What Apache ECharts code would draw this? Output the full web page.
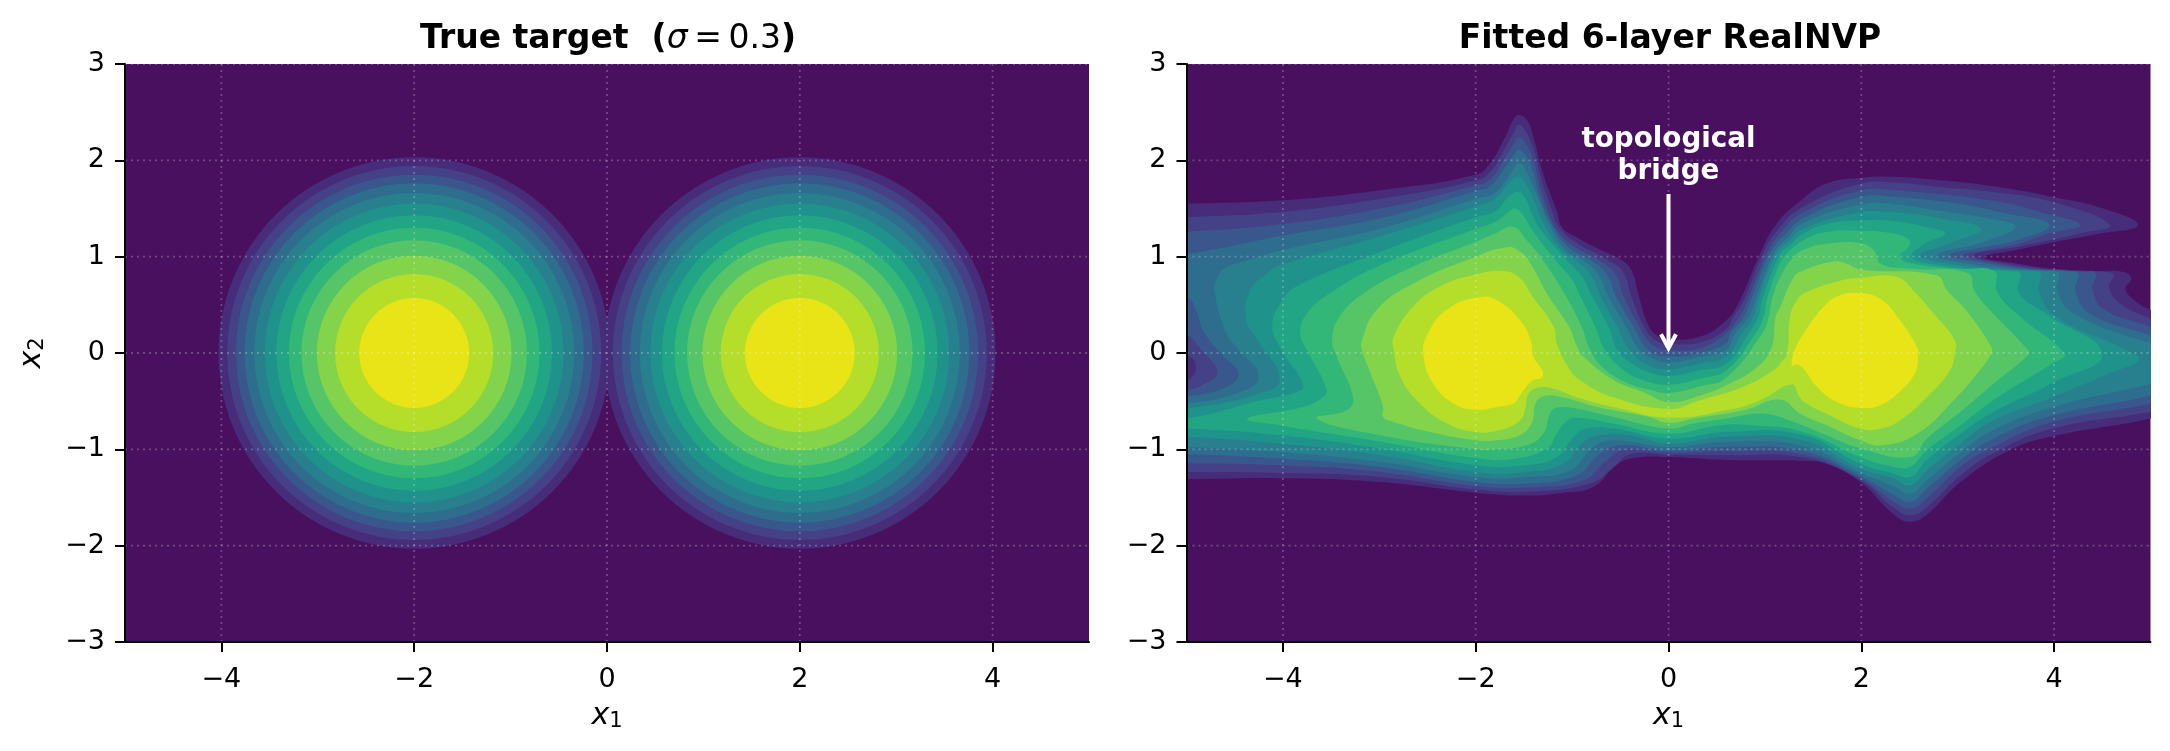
<!DOCTYPE html>
<html>
<head>
<meta charset="utf-8">
<title>RealNVP</title>
<script src="https://cdn.jsdelivr.net/npm/echarts@6/dist/echarts.min.js"></script>
<style>
  html, body { margin: 0; padding: 0; background: #fff; }
  #chart { width: 2170px; height: 751px; }
</style>
</head>
<body>
<div id="chart"></div>
<script>
// tick labels
var xTicks = [-4, -2, 0, 2, 4];
var yTicks = [-3, -2, -1, 0, 1, 2, 3];

// filled contour colours, outermost level first
var levelColors = ['#472c7a', '#444186', '#39578c', '#2f6d8e', '#28808e', '#20928c',
                   '#21a585', '#33b778', '#55c568', '#84d44b', '#b5de2b', '#e8e417'];

// left panel: the two modes and the radius of each level
var targetCenters = [-2, 2];
var targetRadii = [2.03, 1.94, 1.85, 1.76, 1.66, 1.55, 1.43, 1.30, 1.17, 1.01, 0.82, 0.57];

// right panel: level outlines, in x1,x2 units
var level1 = [[-5.4,1.55],[-5,1.55],[-4,1.585],[-2.99,1.69],[-2,1.85],[-1.85,1.97],[-1.71,2.21],[-1.61,2.42],[-1.55,2.47],[-1.47,2.42],[-1.40,2.24],[-1.30,1.86],[-1.16,1.48],[-1.10,1.3],[-.95,1.2],[-.70,1.07],[-.48,.96],[-.38,.85],[-.31,.6],[-.2,.27],[-.1,.17],[0,.14],[.33,.17],[.6,.34],[.74,.546],[.95,1.03],[1.12,1.34],[1.37,1.58],[1.64,1.76],[1.99,1.82],[2.33,1.83],[2.85,1.79],[3.37,1.73],[3.99,1.62],[4.51,1.50],[4.87,1.33],[4.48,1.24],[4,1.15],[3.61,1.07],[3.27,.997],[3.61,.93],[4,.875],[4.48,.85],[4.72,.84],[4.8,.77],[4.74,.67],[4.83,.55],[5,.446],[5.4,.3],[5.4,-.55],[5,-.68],[3.99,-.865],[3.54,-1.01],[3.03,-1.34],[2.68,-1.68],[2.51,-1.753],[2.33,-1.67],[1.99,-1.34],[1.64,-1.15],[1.4,-1.12],[.6,-1.11],[0,-1.08],[-.36,-1.09],[-.54,-1.165],[-.78,-1.39],[-1.09,-1.45],[-1.47,-1.48],[-2,-1.45],[-2.99,-1.34],[-4.03,-1.30],[-5,-1.31],[-5.4,-1.31]];
var level2 = [[-5.4,1.41],[-5,1.41],[-4,1.465],[-2.99,1.60],[-2,1.79],[-1.85,1.88],[-1.70,2.12],[-1.6,2.3],[-1.55,2.37],[-1.48,2.3],[-1.40,2.12],[-1.31,1.78],[-1.19,1.43],[-1.13,1.3],[-.98,1.16],[-.62,.96],[-.47,.84],[-.39,.6],[-.25,.27],[-.13,.13],[0,.097],[.33,.11],[.6,.25],[.67,.37],[.78,.546],[.98,1.03],[1.15,1.3],[1.4,1.52],[1.99,1.757],[2.33,1.77],[2.85,1.72],[3.37,1.67],[3.99,1.565],[4.58,1.33],[4.27,1.24],[4,1.18],[3.61,1.10],[3.16,1.014],[3.5,.93],[4,.865],[4.3,.85],[4.55,.84],[4.62,.81],[4.57,.685],[4.69,.51],[5,.356],[5.4,.2],[5.4,-.5],[5,-.61],[3.99,-.785],[3.37,-1.04],[3.03,-1.27],[2.68,-1.6],[2.51,-1.684],[2.33,-1.6],[1.99,-1.32],[1.4,-1.086],[.6,-1.06],[0,-1.055],[-.4,-1.05],[-.57,-1.183],[-.81,-1.355],[-1.47,-1.44],[-2,-1.418],[-2.99,-1.286],[-4.03,-1.245],[-5,-1.234],[-5.4,-1.23],[-5.4,-.30],[-5,-.28],[-4.9,-.15],[-5,-.02],[-5.4,0]];
var level3 = [[-5.4,1.26],[-5,1.26],[-4,1.34],[-2.99,1.50],[-2,1.74],[-1.85,1.80],[-1.70,2.02],[-1.6,2.18],[-1.55,2.24],[-1.47,2.16],[-1.40,2.0],[-1.32,1.68],[-1.22,1.40],[-1.16,1.28],[-1.0,1.12],[-.72,.96],[-.55,.82],[-.47,.6],[-.30,.27],[-.16,.08],[0,.03],[.33,.05],[.59,.2],[.73,.37],[.82,.546],[1.02,1.03],[1.18,1.27],[1.4,1.46],[1.99,1.687],[2.33,1.69],[3.37,1.58],[3.9,1.45],[4.27,1.33],[3.95,1.24],[3.61,1.13],[3.27,1.065],[3.06,1.014],[3.4,.93],[3.9,.865],[4.3,.845],[4.43,.83],[4.4,.66],[4.51,.46],[5,.27],[5.4,.1],[5.4,-.4],[5,-.525],[3.99,-.716],[3.37,-.975],[3.03,-1.18],[2.68,-1.51],[2.51,-1.615],[2.33,-1.54],[1.99,-1.30],[1.4,-1.055],[.6,-1.02],[0,-1.034],[-.47,-1.01],[-.64,-1.113],[-.88,-1.32],[-1.47,-1.397],[-2,-1.38],[-2.99,-1.234],[-4.03,-1.165],[-5,-1.147],[-5.4,-1.147],[-5.4,-.385],[-5,-.385],[-4.83,-.33],[-4.68,-.2],[-4.86,.045],[-5,.185],[-5.4,.185]];
var level4 = [[-5.4,1.03],[-5,1.03],[-4,1.22],[-2.99,1.40],[-2,1.68],[-1.85,1.73],[-1.7,1.92],[-1.6,2.06],[-1.55,2.11],[-1.47,2.03],[-1.40,1.87],[-1.33,1.6],[-1.19,1.3],[-1.03,1.09],[-.80,.96],[-.63,.8],[-.55,.6],[-.36,.27],[-.2,.02],[0,-.035],[.33,0],[.6,.1],[.64,.2],[.78,.37],[.855,.546],[1.05,1.03],[1.2,1.22],[1.4,1.40],[1.99,1.62],[2.33,1.62],[3.0,1.55],[3.5,1.45],[3.95,1.33],[3.61,1.17],[3.27,1.1],[2.92,1.014],[3.3,.93],[3.8,.865],[4.15,.85],[4.25,.82],[4.22,.65],[4.37,.41],[5,.183],[5.4,.05],[5.4,-.3],[5,-.44],[3.99,-.647],[3.37,-.889],[3.03,-1.11],[2.68,-1.41],[2.51,-1.546],[2.33,-1.47],[1.99,-1.276],[1.4,-1.017],[.6,-.975],[0,-1.01],[-.5,-.958],[-.71,-1.044],[-.95,-1.269],[-1.47,-1.355],[-2,-1.338],[-2.99,-1.183],[-4.03,-1.096],[-5,-1.05],[-5.4,-1.05],[-5.4,-.45],[-5,-.45],[-4.58,-.35],[-4.46,-.21],[-4.65,0],[-4.83,.24],[-4.9,.44],[-5,.58],[-5.4,.58]];
var level5 = [[-4.71,.65],[-4.68,.78],[-4.6,.88],[-4.3,.98],[-4,1.07],[-2.99,1.29],[-2,1.60],[-1.8,1.66],[-1.66,1.83],[-1.55,1.97],[-1.47,1.88],[-1.40,1.725],[-1.33,1.55],[-1.22,1.3],[-1.05,1.05],[-.88,.96],[-.72,.8],[-.63,.6],[-.44,.27],[-.3,.03],[-.18,-.05],[0,-.10],[.33,-.04],[.6,.03],[.69,.2],[.83,.37],[.90,.546],[1.09,1.03],[1.22,1.18],[1.4,1.35],[1.99,1.54],[2.33,1.545],[2.85,1.47],[3.3,1.4],[3.6,1.31],[3.27,1.155],[2.78,1.014],[3.1,.93],[3.6,.87],[3.95,.85],[4.05,.82],[4.03,.65],[4.2,.41],[5,.10],[5.4,0],[5.4,-.2],[5,-.32],[3.99,-.56],[3.37,-.80],[3.03,-1.03],[2.68,-1.32],[2.51,-1.46],[2.33,-1.38],[1.99,-1.24],[1.4,-.965],[.6,-.92],[0,-.975],[-.57,-.906],[-.78,-.975],[-1.02,-1.217],[-1.47,-1.286],[-2,-1.286],[-2.99,-1.13],[-4.03,-1.027],[-5,-.975],[-5.4,-.975],[-5.4,-.52],[-5,-.52],[-4.48,-.42],[-4.25,-.25],[-4.48,.06],[-4.585,.20]];
var level6 = [[-4.34,.65],[-4.17,.82],[-4,.92],[-2.99,1.21],[-2,1.52],[-1.8,1.6],[-1.65,1.77],[-1.555,1.83],[-1.47,1.74],[-1.40,1.59],[-1.27,1.3],[-1.1,1.06],[-.96,.96],[-.8,.8],[-.71,.6],[-.53,.27],[-.42,.05],[-.22,-.12],[0,-.17],[.33,-.11],[.6,-.04],[.76,.2],[.88,.37],[.93,.546],[1.12,1.03],[1.25,1.16],[1.4,1.29],[1.99,1.46],[2.33,1.46],[2.8,1.4],[3.24,1.29],[2.92,1.14],[2.61,1.014],[2.9,.93],[3.4,.87],[3.75,.85],[3.86,.82],[3.84,.65],[4.03,.37],[4.75,.03],[4.88,-.07],[4.6,-.2],[3.99,-.456],[3.37,-.70],[3.03,-.94],[2.68,-1.22],[2.51,-1.373],[2.33,-1.3],[1.99,-1.2],[1.4,-.906],[.6,-.87],[0,-.94],[-.4,-.854],[-.71,-.854],[-.88,-.923],[-1.09,-1.148],[-1.47,-1.234],[-2,-1.234],[-2.99,-1.06],[-4.03,-.94],[-5,-.87],[-5.4,-.87],[-5.4,-.575],[-5,-.575],[-4.24,-.42],[-4.03,-.27],[-4.26,.13],[-4.38,.34]];
var level7 = [[-4.11,.305],[-4,.55],[-3.86,.69],[-2.99,1.05],[-2,1.41],[-1.8,1.47],[-1.65,1.63],[-1.555,1.67],[-1.47,1.58],[-1.43,1.48],[-1.34,1.3],[-1.05,.96],[-.89,.78],[-.80,.6],[-.62,.27],[-.53,.03],[-.35,-.13],[-.2,-.2],[0,-.24],[.33,-.18],[.6,-.11],[.83,.2],[.93,.37],[.97,.546],[1.16,1.03],[1.27,1.13],[1.4,1.24],[1.64,1.34],[1.99,1.376],[2.33,1.37],[2.7,1.3],[2.87,1.24],[2.65,1.13],[2.52,1.0],[2.7,.93],[3.2,.87],[3.55,.85],[3.65,.82],[3.63,.63],[3.91,.41],[4.5,-.007],[3.99,-.308],[3.37,-.612],[3.03,-.837],[2.68,-1.11],[2.51,-1.286],[2.33,-1.25],[1.99,-1.15],[1.4,-.854],[.6,-.82],[0,-.889],[-.57,-.785],[-.85,-.785],[-.985,-.871],[-1.16,-1.08],[-1.47,-1.165],[-2,-1.165],[-2.99,-.992],[-4.03,-.854],[-5,-.785],[-5.4,-.785],[-5.4,-.68],[-5,-.68],[-4.31,-.51],[-3.81,-.385],[-3.81,-.28],[-4.03,.06]];
var level8 = [[-3.82,.2],[-3.75,.41],[-3.51,.62],[-2.99,.91],[-2,1.29],[-1.8,1.36],[-1.65,1.47],[-1.59,1.50],[-1.5,1.42],[-1.43,1.3],[-1.17,.96],[-1.0,.76],[-.92,.6],[-.76,.27],[-.66,.03],[-.5,-.15],[-.3,-.27],[0,-.33],[.33,-.266],[.6,-.18],[.9,.2],[.985,.37],[1.02,.546],[1.12,.85],[1.2,1.0],[1.4,1.17],[1.64,1.255],[1.99,1.27],[2.33,1.24],[2.5,1.17],[2.49,1.10],[2.40,1.0],[2.54,.927],[3.03,.875],[3.38,.85],[3.41,.633],[3.65,.373],[4.11,-.01],[3.99,-.104],[3.37,-.49],[3.03,-.75],[2.68,-1.01],[2.51,-1.18],[2.33,-1.18],[1.99,-1.08],[1.4,-.82],[.85,-.75],[.54,-.75],[0,-.837],[-.57,-.733],[-.92,-.674],[-1.05,-.7],[-1.16,-.837],[-1.26,-.99],[-1.61,-1.1],[-2,-1.09],[-2.99,-.92],[-4.03,-.75],[-4.37,-.68],[-3.79,-.56],[-3.58,-.455],[-3.55,-.37],[-3.75,.03]];
var level9 = [[-3.49,.135],[-3.41,.38],[-3.16,.62],[-2.65,.895],[-2,1.155],[-1.8,1.24],[-1.61,1.31],[-1.47,1.17],[-1.30,.96],[-1.07,.6],[-.9,.27],[-.82,.05],[-.68,-.15],[-.45,-.3],[-.2,-.38],[0,-.415],[.33,-.346],[.6,-.256],[.97,.2],[1.04,.37],[1.07,.546],[1.16,.79],[1.3,1.0],[1.45,1.09],[1.64,1.134],[1.99,1.14],[2.13,1.065],[2.2,.927],[2.51,.875],[3.1,.83],[3.18,.633],[3.37,.408],[3.73,.03],[3.73,-.02],[3.37,-.32],[3.03,-.61],[2.68,-.889],[2.51,-1.08],[1.99,-.99],[1.64,-.854],[1.30,-.716],[.985,-.63],[.6,-.68],[.26,-.733],[0,-.785],[-.57,-.664],[-1.02,-.567],[-1.16,-.567],[-1.23,-.63],[-1.30,-.837],[-1.47,-.958],[-1.78,-1.0],[-2,-1.0],[-2.99,-.855],[-3.65,-.68],[-3.34,-.595],[-3.27,-.47],[-3.44,-.04]];
var level10 = [[-3.18,.13],[-3.03,.445],[-2.65,.72],[-2,1.0],[-1.66,1.10],[-1.54,1.05],[-1.45,.96],[-1.25,.6],[-1.03,.27],[-.95,.07],[-.88,-.04],[-.57,-.28],[-.25,-.41],[0,-.51],[.33,-.44],[.6,-.335],[.92,-.145],[1.07,.06],[1.11,.37],[1.16,.48],[1.30,.79],[1.40,.857],[1.71,.95],[1.85,.927],[1.99,.868],[2.78,.806],[2.89,.65],[3.09,.44],[3.35,.06],[3.35,0],[3.23,-.18],[2.96,-.49],[2.58,-.837],[2.21,-.958],[1.99,-.906],[1.64,-.75],[1.37,-.63],[1.16,-.484],[.78,-.595],[.26,-.68],[0,-.726],[-.22,-.66],[-.74,-.56],[-1.12,-.455],[-1.30,-.45],[-1.38,-.525],[-1.42,-.73],[-1.54,-.85],[-1.78,-.905],[-2,-.905],[-2.47,-.82],[-2.85,-.715],[-2.96,-.665],[-2.96,-.56],[-3.09,-.21],[-3.18,.03]];
var level11 = [[-2.85,.17],[-2.65,.48],[-2.37,.69],[-2.02,.81],[-1.71,.85],[-1.54,.775],[-1.42,.6],[-1.19,.27],[-1.16,.1],[-1.05,-.13],[-.92,-.28],[-.57,-.46],[0,-.58],[.33,-.49],[.78,-.35],[1.09,-.18],[1.16,-.11],[1.23,0],[1.26,.37],[1.33,.546],[1.43,.63],[1.78,.75],[1.99,.78],[2.37,.79],[2.54,.65],[2.75,.41],[2.97,.13],[2.97,0],[2.92,-.18],[2.68,-.46],[2.4,-.70],[2.2,-.785],[1.99,-.785],[1.64,-.63],[1.43,-.525],[1.35,-.44],[1.28,-.325],[.95,-.49],[.6,-.595],[0,-.67],[-.57,-.56],[-.92,-.47],[-1.19,-.37],[-1.35,-.36],[-1.45,-.42],[-1.49,-.595],[-1.54,-.7],[-1.75,-.8],[-2.0,-.82],[-2.3,-.73],[-2.58,-.525],[-2.78,-.25],[-2.85,.03]];
var level12Left = [[-2.51,.17],[-2.3,.45],[-1.95,.58],[-1.75,.53],[-1.54,.34],[-1.43,.135],[-1.40,-.04],[-1.30,-.23],[-1.43,-.30],[-1.54,-.44],[-1.61,-.525],[-1.78,-.56],[-2.0,-.59],[-2.23,-.525],[-2.44,-.32],[-2.54,-.04]];
var level12Right = [[1.28,-.13],[1.31,.03],[1.40,.20],[1.61,.48],[1.78,.60],[1.99,.62],[2.2,.56],[2.4,.34],[2.58,.06],[2.59,-.02],[2.56,-.2],[2.40,-.40],[2.2,-.54],[2.02,-.57],[1.75,-.51],[1.54,-.35],[1.40,-.16],[1.33,-.12]];

var fittedLevels = [level1, level2, level3, level4, level5, level6, level7,
                    level8, level9, level10, level11, level12Left, level12Right];
var fittedColorIndex = [0, 1, 2, 3, 4, 5, 6, 7, 8, 9, 10, 11, 11];

// annotation
var arrowFrom = [0, 1.65];
var arrowTo = [0, 0.05];
var labelAt = [0, 2.06];

var myChart = echarts.init(document.getElementById('chart'), null, { renderer: 'canvas' });

var tickFont = 'DejaVu Sans';

function minusSign(v) {
  return String(v).replace('-', '\u2212');
}

function axisNameRich() {
  return {
    rich: {
      i: { fontFamily: tickFont, fontStyle: 'italic', fontSize: 30, color: '#000' },
      s: { fontFamily: tickFont, fontSize: 21, color: '#000', verticalAlign: 'bottom', padding: [10, 0, 0, 0] }
    }
  };
}

function makeXAxis(index) {
  return {
    gridIndex: index, type: 'value', min: -5, max: 5, interval: 1, z: 10,
    name: '{i|x}{s|1}', nameLocation: 'middle', nameGap: 59,
    nameTextStyle: axisNameRich(),
    axisLine: { show: true, onZero: false, lineStyle: { color: '#000', width: 2 } },
    axisTick: { show: true, length: 10, customValues: xTicks, lineStyle: { color: '#000', width: 2 } },
    axisLabel: { customValues: xTicks, margin: 24, fontFamily: tickFont, fontSize: 27, color: '#000', formatter: minusSign },
    splitLine: { show: false }
  };
}

function makeYAxis(index, withName) {
  var axis = {
    gridIndex: index, type: 'value', min: -3, max: 3, interval: 1, z: 10,
    axisLine: { show: true, onZero: false, lineStyle: { color: '#000', width: 2 } },
    axisTick: { show: true, length: 10, lineStyle: { color: '#000', width: 2 } },
    axisLabel: { margin: 20, fontFamily: tickFont, fontSize: 27, color: '#000', formatter: minusSign },
    splitLine: { show: false }
  };
  if (withName) {
    axis.name = '{i|x}{s|2}';
    axis.nameLocation = 'middle';
    axis.nameGap = 77;
    axis.nameRotate = 90;
    axis.nameTextStyle = axisNameRich();
  }
  return axis;
}

// 虚线网格，画在填色之上
function gridSeries(index) {
  return {
    type: 'custom', coordinateSystem: 'cartesian2d',
    xAxisIndex: index, yAxisIndex: index, z: 4, silent: true, animation: false, clip: true,
    data: xTicks.map(function (v) { return [v, 0, 0]; }).concat(yTicks.map(function (v) { return [0, v, 1]; })),
    renderItem: function (params, api) {
      var isY = api.value(2) === 1;
      var a = isY ? api.coord([-5, api.value(1)]) : api.coord([api.value(0), -3]);
      var b = isY ? api.coord([5, api.value(1)]) : api.coord([api.value(0), 3]);
      return {
        type: 'line',
        shape: { x1: a[0], y1: a[1], x2: b[0], y2: b[1] },
        style: { stroke: 'rgba(255,255,255,0.24)', lineWidth: 1.8, lineDash: [2, 4] }
      };
    }
  };
}

var targetData = [];
targetRadii.forEach(function (r, level) {
  targetCenters.forEach(function (c) {
    targetData.push([c, 0, r, level]);
  });
});

var option = {
  animation: false,
  backgroundColor: '#fff',
  grid: [
    { left: 125, top: 64, width: 964, height: 578, show: true, backgroundColor: '#48105f', borderWidth: 0 },
    { left: 1186.5, top: 64, width: 964, height: 578, show: true, backgroundColor: '#48105f', borderWidth: 0 }
  ],
  title: [
    {
      left: 603, top: 18, textAlign: 'center',
      text: '{b|True target  (}{i|\u03c3}{r|\u2009=\u20090.3}{b|)}',
      textStyle: {
        rich: {
          b: { fontFamily: tickFont, fontWeight: 'bold', fontSize: 33, color: '#000' },
          i: { fontFamily: tickFont, fontWeight: 'normal', fontStyle: 'italic', fontSize: 33, color: '#000' },
          r: { fontFamily: tickFont, fontWeight: 'normal', fontSize: 33, color: '#000' }
        }
      }
    },
    {
      left: 1665, top: 18, textAlign: 'center',
      text: 'Fitted 6-layer RealNVP',
      textStyle: { fontFamily: tickFont, fontWeight: 'bold', fontSize: 33, color: '#000' }
    }
  ],
  xAxis: [makeXAxis(0), makeXAxis(1)],
  yAxis: [makeYAxis(0, true), makeYAxis(1, false)],
  series: [
    {
      type: 'custom', coordinateSystem: 'cartesian2d', xAxisIndex: 0, yAxisIndex: 0,
      z: 2, silent: true, animation: false, clip: true,
      data: targetData,
      renderItem: function (params, api) {
        var c = api.coord([api.value(0), api.value(1)]);
        return {
          type: 'circle',
          shape: { cx: c[0], cy: c[1], r: api.size([api.value(2), 0])[0] },
          style: { fill: levelColors[api.value(3)] }
        };
      }
    },
    {
      type: 'custom', coordinateSystem: 'cartesian2d', xAxisIndex: 1, yAxisIndex: 1,
      z: 2, silent: true, animation: false, clip: true,
      data: fittedLevels.map(function (p, i) { return [0, 0, i]; }),
      renderItem: function (params, api) {
        var i = api.value(2);
        return {
          type: 'polygon',
          shape: { points: fittedLevels[i].map(function (p) { return api.coord(p); }), smooth: 0.45 },
          style: { fill: levelColors[fittedColorIndex[i]] }
        };
      }
    },
    gridSeries(0),
    gridSeries(1),
    {
      type: 'custom', coordinateSystem: 'cartesian2d', xAxisIndex: 1, yAxisIndex: 1,
      z: 6, silent: true, animation: false, clip: false,
      data: [[0, 0]],
      renderItem: function (params, api) {
        var a = api.coord(arrowFrom), b = api.coord(arrowTo), l = api.coord(labelAt);
        return {
          type: 'group',
          children: [
            {
              type: 'line',
              shape: { x1: a[0], y1: a[1], x2: b[0], y2: b[1] - 2 },
              style: { stroke: '#fff', lineWidth: 4 }
            },
            {
              type: 'polyline',
              shape: { points: [[b[0] - 7.5, b[1] - 14], [b[0], b[1]], [b[0] + 7.5, b[1] - 14]] },
              style: { stroke: '#fff', fill: null, lineWidth: 4 }
            },
            {
              type: 'text',
              x: l[0], y: l[1] + 1,
              style: {
                text: 'topological\nbridge', fill: '#fff', align: 'center', verticalAlign: 'middle',
                font: 'bold 27.8px "DejaVu Sans"', lineHeight: 32
              }
            }
          ]
        };
      }
    }
  ]
};

myChart.setOption(option);
</script>
</body>
</html>
